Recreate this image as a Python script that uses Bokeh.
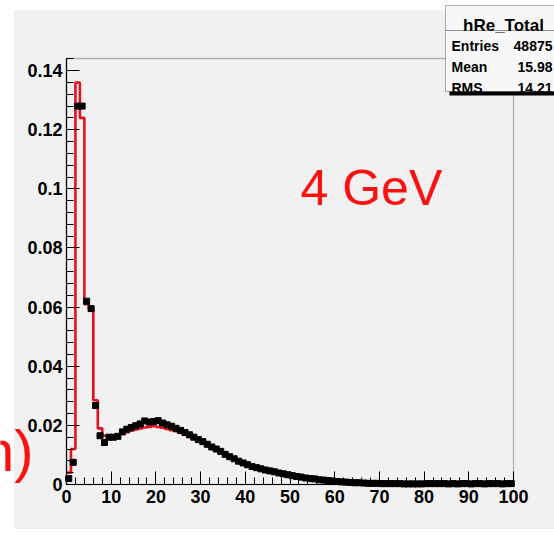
import numpy as np
from bokeh.plotting import figure
from bokeh.models import (Label, BoxAnnotation, Range1d, SingleIntervalTicker,
                          CustomJSTickFormatter, ColumnDataSource)
from bokeh.embed import file_html
from bokeh.resources import INLINE

# ---------------- data ----------------
bin_edges_lo = list(range(0, 100))
data_values = [0.002, 0.0075, 0.128, 0.128, 0.062, 0.0595, 0.0267, 0.0165, 0.0142, 0.016,
               0.016, 0.0163, 0.0178, 0.0187, 0.0193, 0.0199, 0.0205, 0.0215, 0.0211, 0.0213,
               0.0216, 0.0208, 0.0202, 0.0197, 0.019, 0.0183, 0.0176, 0.0168, 0.016, 0.0152,
               0.0145, 0.0136, 0.0127, 0.012, 0.0112, 0.0102, 0.0094, 0.0087, 0.0079, 0.0073,
               0.0067, 0.0061, 0.0057, 0.0053, 0.0049, 0.0046, 0.0043, 0.0039, 0.0036, 0.0033,
               0.003, 0.0027, 0.0025, 0.0022, 0.002, 0.0019, 0.0016, 0.0015, 0.0013, 0.0012,
               0.001, 0.0009, 0.0008, 0.0007, 0.0006, 0.0006, 0.0005, 0.0004, 0.0004, 0.0004,
               0.0003, 0.0003, 0.0003, 0.0003, 0.0003, 0.0002, 0.0002, 0.0002, 0.0002, 0.0002,
               0.0003, 0.0003, 0.0003, 0.0003, 0.0003, 0.0002, 0.0003, 0.0002, 0.0003, 0.0003,
               0.0002, 0.0003, 0.0003, 0.0002, 0.0003, 0.0003, 0.0003, 0.0002, 0.0003, 0.0003]
mc_values = [0.004, 0.012, 0.136, 0.124, 0.061, 0.0595, 0.0285, 0.019, 0.0165, 0.0163,
             0.0165, 0.0168, 0.0172, 0.0177, 0.0182, 0.0186, 0.019, 0.0193, 0.0195, 0.0197,
             0.0195, 0.0192, 0.0188, 0.0184, 0.018, 0.0175, 0.0169, 0.0162, 0.0155, 0.0148,
             0.0141, 0.0133, 0.0125, 0.0118, 0.011, 0.0103, 0.0096, 0.0089, 0.0082, 0.0076,
             0.0070, 0.0064, 0.0059, 0.0054, 0.005, 0.0046, 0.0042, 0.0038, 0.0035, 0.0032,
             0.0029, 0.0026, 0.0024, 0.0021, 0.0019, 0.0017, 0.0015, 0.0014, 0.0012, 0.0011,
             0.001, 0.0009, 0.0008, 0.0007, 0.0006, 0.0006, 0.0005, 0.0005, 0.0004, 0.0004,
             0.0004, 0.0003, 0.0003, 0.0003, 0.0003, 0.0003, 0.0003, 0.0003, 0.0003, 0.0003,
             0.0003, 0.0003, 0.0003, 0.0003, 0.0003, 0.0003, 0.0003, 0.0003, 0.0003, 0.0003,
             0.0003, 0.0003, 0.0003, 0.0003, 0.0003, 0.0003, 0.0003, 0.0003, 0.0003, 0.0003]
stats_title = "hRe_Total"
stats_names = ["Entries", "Mean", "RMS"]
stats_vals = ["48875", "15.98", "14.21"]
energy_label = "4 GeV"
side_label = "n)"

# ---------------- layout ----------------
W, H = 554, 536
FL, FR, FT, FB = 66, 513, 58, 484      # histogram frame in pixels
XMIN, XMAX = 0, 100
YMIN, YMAX = 0, 0.1441


def dx(px):
    return XMIN + (px - FL) * (XMAX - XMIN) / (FR - FL)


def dy(py):
    return YMIN + (FB - py) * (YMAX - YMIN) / (FB - FT)


# the Bokeh frame spans the whole canvas; the histogram axes sit at fixed locations
p = figure(width=W, height=H, output_backend="svg", toolbar_location=None,
           x_range=Range1d(dx(0), dx(W)), y_range=Range1d(dy(H), dy(0)),
           min_border_left=0, min_border_right=0, min_border_top=0, min_border_bottom=0)
p.border_fill_color = "white"
p.background_fill_color = "white"
p.outline_line_color = None
p.grid.visible = False

CANVAS = "#f1f1f1"
p.add_layout(BoxAnnotation(left=dx(14), right=dx(W + 20), top=dy(10), bottom=dy(528),
                           fill_color=CANVAS, fill_alpha=1, line_color="#dcdcdc",
                           line_width=1, level="underlay"))
# histogram frame (top / right edges)
p.add_layout(BoxAnnotation(left=XMIN, right=XMAX, top=YMAX, bottom=YMIN,
                           fill_alpha=0, line_color="#222222", line_width=1.3,
                           level="underlay"))

# axes
p.xaxis.fixed_location = YMIN
p.yaxis.fixed_location = XMIN
p.xaxis.bounds = (XMIN, XMAX)
p.yaxis.bounds = (YMIN, YMAX)
p.xaxis.ticker = SingleIntervalTicker(interval=10, num_minor_ticks=5)
p.yaxis.ticker = SingleIntervalTicker(interval=0.02, num_minor_ticks=5)
p.yaxis.formatter = CustomJSTickFormatter(
    code="return Math.abs(tick) < 1e-9 ? '0' : String(parseFloat(tick.toFixed(4)));")
for ax in (p.xaxis, p.yaxis):
    ax.major_tick_in = 13
    ax.major_tick_out = 0
    ax.minor_tick_in = 7
    ax.minor_tick_out = 0
    ax.axis_line_color = "black"
    ax.axis_line_width = 1.2
    ax.major_tick_line_color = "black"
    ax.minor_tick_line_color = "black"
    ax.major_label_text_font = "Liberation Sans"
    ax.major_label_text_font_style = "bold"
    ax.major_label_text_font_size = "18px"
    ax.major_label_text_color = "black"
p.xaxis.major_label_standoff = 5
p.yaxis.major_label_standoff = 4

# MC histogram (red step)
edges = np.arange(0, 101)
mc_src = ColumnDataSource(dict(x=edges, y=np.append(mc_values, mc_values[-1])))
p.step("x", "y", source=mc_src, mode="after", line_color="#e3121c", line_width=2.6)

# data points with bin-width bars
lo = np.array(bin_edges_lo, dtype=float)
d_src = ColumnDataSource(dict(x0=lo, x1=lo + 1, xc=lo + 0.5, y=data_values))
p.segment("x0", "y", "x1", "y", source=d_src, line_color="black", line_width=1.6)
p.scatter("xc", "y", source=d_src, marker="square", size=6, fill_color="black",
          line_color="black")

# red labels
p.add_layout(Label(x=dx(300), y=dy(187), text=energy_label, text_font="Liberation Sans",
                   text_font_size="50px", text_color="#ff1010",
                   text_baseline="alphabetic", text_align="left"))
p.add_layout(Label(x=dx(33), y=dy(450), text=side_label, text_font="Liberation Sans",
                   text_font_size="58px", text_color="#ff1010",
                   text_baseline="alphabetic", text_align="right"))

# stats box
p.add_layout(BoxAnnotation(left=dx(449), right=dx(W + 20), top=dy(34), bottom=dy(95),
                           fill_color="black", fill_alpha=1, line_color=None,
                           level="annotation"))
p.add_layout(BoxAnnotation(left=dx(445), right=dx(W + 20), top=dy(5), bottom=dy(30),
                           fill_color="#f8f8f8", fill_alpha=1, line_color="black",
                           line_width=1, level="annotation"))
p.add_layout(BoxAnnotation(left=dx(445), right=dx(W + 20), top=dy(30), bottom=dy(91),
                           fill_color="#f8f8f8", fill_alpha=1, line_color="black",
                           line_width=1, level="annotation"))
p.add_layout(Label(x=dx(503), y=dy(25), text=stats_title, text_font="Liberation Sans",
                   text_font_style="bold", text_font_size="17px", text_color="black",
                   text_align="center", text_baseline="alphabetic"))
for i, (n, v) in enumerate(zip(stats_names, stats_vals)):
    yb = 45 + i * 21
    p.add_layout(Label(x=dx(451), y=dy(yb), text=n, text_font="Liberation Sans",
                       text_font_style="bold", text_font_size="14px", text_color="black",
                       text_align="left", text_baseline="alphabetic"))
    p.add_layout(Label(x=dx(552), y=dy(yb), text=v, text_font="Liberation Sans",
                       text_font_style="bold", text_font_size="14px", text_color="black",
                       text_align="right", text_baseline="alphabetic"))

open("out.html", "w").write(file_html(p, INLINE))
